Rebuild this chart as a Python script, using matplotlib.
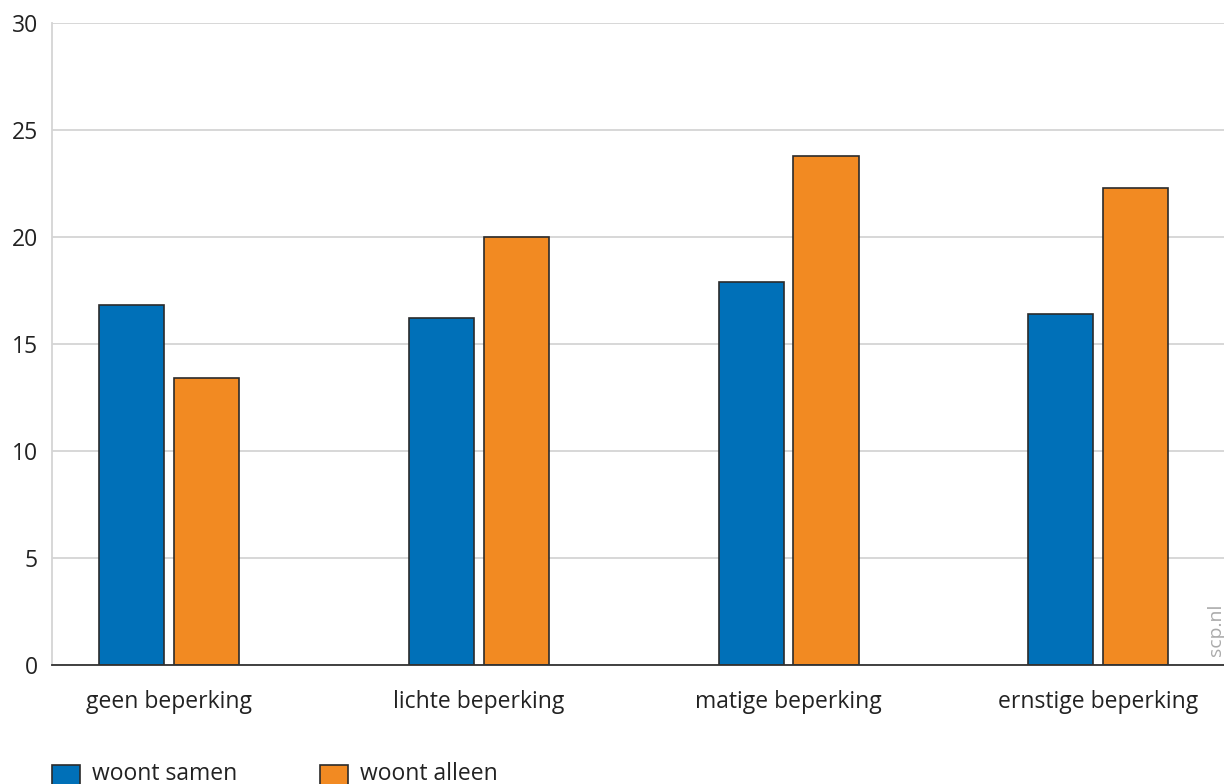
import numpy as np
import matplotlib.pyplot as plt
from matplotlib.patches import Rectangle

categories = ['geen beperking', 'lichte beperking', 'matige beperking', 'ernstige beperking']
samen = [16.8, 16.2, 17.9, 16.4]
alleen = [13.4, 20.0, 23.8, 22.3]
series_names = ['woont samen', 'woont alleen']
yticks = [0, 5, 10, 15, 20, 25, 30]

blue = '#0070b8'
orange = '#f28a22'
edge = '#2b2b2b'
fs = 16.5

plt.rcParams['font.family'] = ['Open Sans', 'DejaVu Sans']

fig = plt.figure(figsize=(12.24, 7.84), dpi=100)
ax = fig.add_axes([52 / 1224, 1 - 665 / 784, (1224 - 52) / 1224, (665 - 23) / 784])

x = np.arange(len(categories))
w = 0.21
off = 0.121
ax.bar(x - off, samen, w, color=blue, edgecolor=edge, linewidth=1.2, zorder=3)
ax.bar(x + off, alleen, w, color=orange, edgecolor=edge, linewidth=1.2, zorder=3)

ax.set_xlim(-0.378, 3.406)
ax.set_ylim(0, 30)
ax.set_yticks(yticks)
ax.set_yticklabels([str(t) for t in yticks], fontsize=fs, color='#222222')
ax.set_xticks(x)
ax.set_xticklabels(categories, fontsize=fs, color='#222222')
ax.tick_params(axis='both', length=0)
ax.tick_params(axis='y', pad=10)
ax.tick_params(axis='x', pad=18)

ax.grid(axis='y', color='#d4d4d4', linewidth=1.3, zorder=0)
for s in ['top', 'right']:
    ax.spines[s].set_visible(False)
ax.spines['left'].set_color('#d4d4d4')
ax.spines['left'].set_linewidth(1.3)
ax.spines['bottom'].set_color('#333333')
ax.spines['bottom'].set_linewidth(1.3)
ax.spines['bottom'].set_zorder(4)

fig.text(1216 / 1224, 1 - 630 / 784, 'scp.nl', rotation=90, fontsize=14,
         color='#aaaaaa', ha='center', va='center')

# legend
for (x0, label, col) in [(52, series_names[0], blue), (320, series_names[1], orange)]:
    fig.patches.append(Rectangle((x0 / 1224, 1 - 789 / 784), 28 / 1224, 24 / 784,
                                 transform=fig.transFigure, facecolor=col,
                                 edgecolor=edge, linewidth=1.2))
    fig.text((x0 + 40) / 1224, 1 - 774 / 784, label, fontsize=fs,
             color='#222222', ha='left', va='center')

fig.savefig('out.png', dpi=100)
